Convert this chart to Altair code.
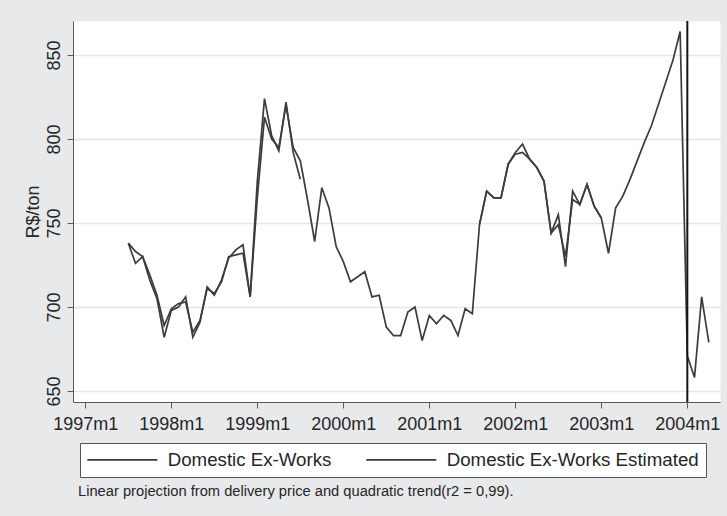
import altair as alt
import pandas as pd

# ---------------- data ----------------
series_names = ["Domestic Ex-Works", "Domestic Ex-Works Estimated"]

# Estimated series, monthly from 1997m7 to 2004m4
est_start = (1997, 7)
estimated = [738, 733, 730, 719, 707, 689, 699, 702, 703, 685,
             692, 711, 708, 715, 730, 731, 732, 706, 765, 813,
             800, 795, 820, 795, 787, 764, 739, 771, 759, 736,
             727, 715, 718, 721, 706, 707, 688, 683, 683, 697,
             700, 680, 695, 690, 695, 692, 683, 699, 696, 749,
             769, 765, 765, 785, 791, 792, 788, 783, 775, 744,
             749, 730, 764, 761, 773, 760, 753, 732, 759, 766,
             776, 787, 798, 808, 821, 834, 847, 864, 671, 658,
             706, 679]

# Actual (Domestic Ex-Works) series, two observed stretches
actual_a_start = (1997, 7)
actual_a = [738, 726, 730, 716, 705, 682, 698, 700, 706, 682,
            691, 712, 707, 716, 729, 734, 737, 706, 775, 824,
            802, 793, 822, 792, 776]
actual_b_start = (2001, 8)
actual_b = [749, 769, 765, 765, 785, 792, 797, 788, 783, 775,
            744, 755, 724, 769, 761, 773, 760, 753]

tick_labels = ["1997m1", "1998m1", "1999m1", "2000m1",
               "2001m1", "2002m1", "2003m1", "2004m1"]
y_ticks = [650, 700, 750, 800, 850]
xline_months = [(2004, 1)]
note = "Linear projection from delivery price and quadratic trend(r2 = 0,99)."


def month_index(ym):
    return (ym[0] - 1997) * 12 + (ym[1] - 1)


rows = []
for seg, (name, start, vals) in enumerate([
        (series_names[0], actual_a_start, actual_a),
        (series_names[0], actual_b_start, actual_b),
        (series_names[1], est_start, estimated)]):
    t0 = month_index(start)
    for i, v in enumerate(vals):
        rows.append({"series": name, "seg": seg, "t": t0 + i, "value": v})
df = pd.DataFrame(rows)

tick_pos = [12 * i for i in range(len(tick_labels))]
label_expr = "[" + ",".join("'%s'" % s for s in tick_labels) + "][floor(datum.value / 12)]"

FONT = "Liberation Sans"
TXT = "#262626"
AXC = "#5a5a5a"
LINE = "#3c3c3c"

x_scale = alt.Scale(domain=[-1.72, 88.56], nice=False, zero=False)
y_scale = alt.Scale(domain=[643.45, 870.25], nice=False, zero=False)

lines = alt.Chart(df).mark_line(strokeWidth=1.7).encode(
    x=alt.X("t:Q", scale=x_scale,
            axis=alt.Axis(values=tick_pos, labelExpr=label_expr, title=None,
                          grid=False, tickSize=6, labelPadding=7,
                          labelFontSize=18, labelFont=FONT, labelColor=TXT,
                          domainColor=AXC, tickColor=AXC, labelFlush=False)),
    y=alt.Y("value:Q", scale=y_scale,
            axis=alt.Axis(values=y_ticks, title="R$/ton", labelAngle=270,
                          labelAlign="center", labelBaseline="alphabetic",
                          labelPadding=8, tickSize=6, labelFontSize=18,
                          labelFont=FONT, labelColor=TXT,
                          titleAngle=270, titleX=-35, titleY=190.5,
                          titleAlign="center", titleBaseline="alphabetic",
                          titleFontSize=18, titleFont=FONT, titleColor=TXT,
                          titleFontWeight="normal",
                          grid=True, gridColor="#e6e6e6", gridWidth=1.5,
                          domainColor=AXC, tickColor=AXC)),
    color=alt.Color("series:N",
                    scale=alt.Scale(domain=series_names, range=[LINE, LINE]),
                    legend=alt.Legend(orient="none", legendX=7, legendY=422,
                                      direction="horizontal", columns=2,
                                      columnPadding=31, title=None,
                                      symbolType="M-5,0H5", symbolSize=196,
                                      symbolOffset=26, symbolStrokeWidth=1.6,
                                      labelOffset=36, labelFontSize=18.7,
                                      labelFont=FONT, labelColor=TXT,
                                      labelLimit=600, padding=7,
                                      fillColor="white", strokeColor="#555555")),
    detail="seg:N",
)

xline_df = pd.DataFrame({"t": [month_index(m) for m in xline_months]})
vline = alt.Chart(xline_df).mark_rule(color="#141414", strokeWidth=2).encode(
    x=alt.X("t:Q", scale=x_scale)
)

note_df = pd.DataFrame({"note": [note]})
note_text = alt.Chart(note_df).mark_text(
    align="left", baseline="alphabetic", fontSize=14.7, font=FONT, color=TXT
).encode(x=alt.value(5), y=alt.value(474.5), text="note:N")

chart = alt.layer(lines, vline, note_text).properties(
    width=647, height=381,
    padding={"left": 73, "top": 21, "right": 7, "bottom": 114},
    autosize=alt.AutoSizeParams(type="none"),
    background="#e8e9eb",
).configure_view(fill="white", stroke="transparent")

chart.save("out.html", embed_options={"renderer": "svg", "actions": False})
